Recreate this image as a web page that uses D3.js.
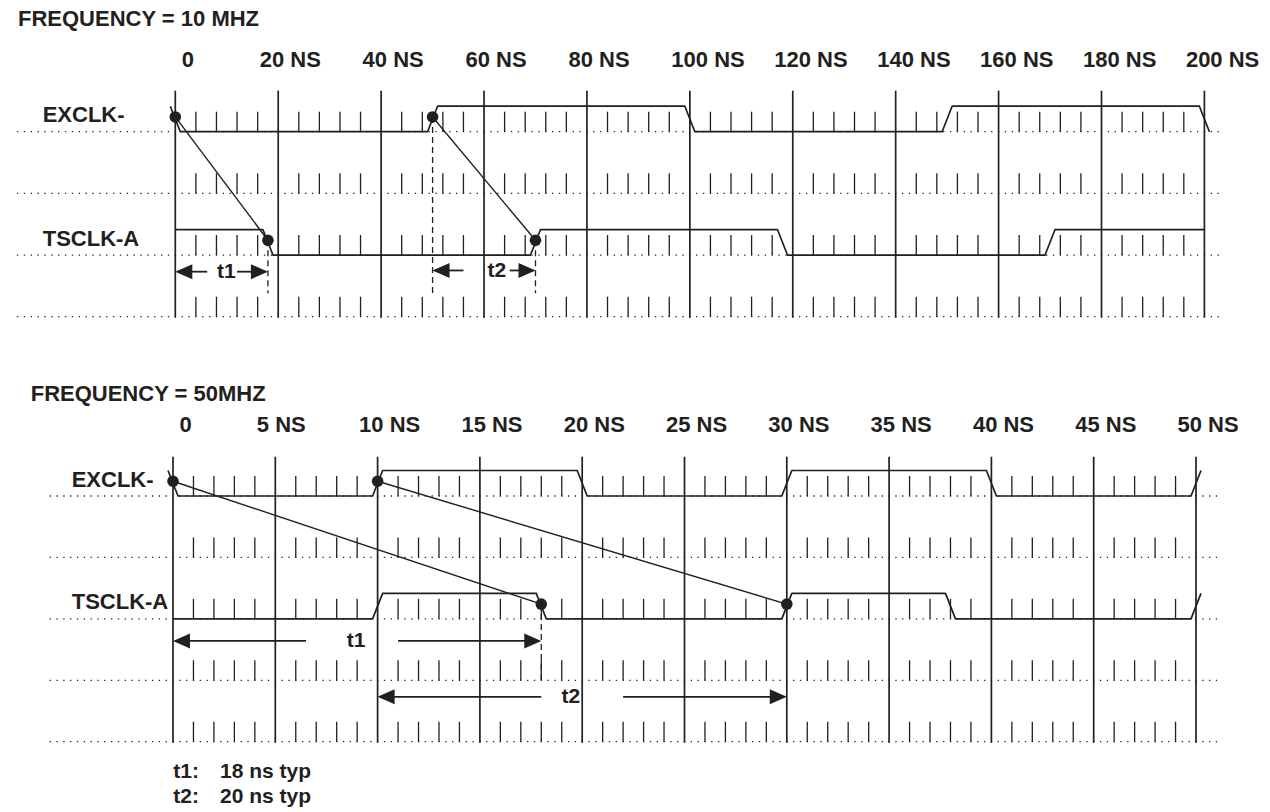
<!DOCTYPE html>
<html lang="en">
<head>
<meta charset="utf-8">
<title>EXCLK- / TSCLK-A timing</title>
<script src="https://cdn.jsdelivr.net/npm/d3@7"></script>
<style>
    body { margin: 0; background: #fff; }
    svg { display: block; }
    text { font-family: "Liberation Sans", Arial, Helvetica, sans-serif; font-weight: bold; fill: #231f20; }
</style>
</head>
<body>
<div id="container"></div>
<script>
// ---------- data: 10 MHz ----------
var ticks10 = [0, 20, 40, 60, 80, 100, 120, 140, 160, 180, 200];
var labels10 = ["0", "20 NS", "40 NS", "60 NS", "80 NS", "100 NS", "120 NS", "140 NS", "160 NS", "180 NS", "200 NS"];
var rows10 = ["EXCLK-", "", "TSCLK-A", ""];
var exclk10 = [0, 50, 100, 150, 200];      // edge times (ns), level toggles, starts high
var tsclk10 = [18, 70, 118, 170];          // starts high
var delays10 = [[0, 18], [50, 70]];        // EXCLK- edge -> TSCLK-A edge
var guides10 = [[18, 2, 2.62], [50, 0, 2.62], [70, 2, 2.62]];   // time, from row, to row
var spans10 = [
    { name: "t1", from: 0, to: 18, at: 9.9, gap: [6.2, 12.0], row: 2.27 },
    { name: "t2", from: 50, to: 70, at: 62.5, gap: [56.0, 65.0], row: 2.25 }
];

// ---------- data: 50 MHz ----------
var ticks50 = [0, 5, 10, 15, 20, 25, 30, 35, 40, 45, 50];
var labels50 = ["0", "5 NS", "10 NS", "15 NS", "20 NS", "25 NS", "30 NS", "35 NS", "40 NS", "45 NS", "50 NS"];
var rows50 = ["EXCLK-", "", "TSCLK-A", "", ""];
var exclk50 = [0, 10, 20, 30, 40, 50];     // starts high
var tsclk50 = [10, 18, 30, 38, 50];        // starts low
var delays50 = [[0, 18], [10, 30]];
var guides50 = [[18, 2, 3]];
var spans50 = [
    { name: "t1", from: 0, to: 18, at: 8.95, gap: [6.5, 11.0], row: 2.36 },
    { name: "t2", from: 10, to: 30, at: 19.45, gap: [18.0, 22.0], row: 3.27 }
];

var notes = [["t1:", "18 ns typ"], ["t2:", "20 ns typ"]];

// ---------- drawing ----------
var ink = "#231f20";
var width = 1270, height = 812;

var svg = d3.select("#container").append("svg")
    .attr("width", width)
    .attr("height", height);

function drawDiagram(cfg) {
    var g = svg.append("g");
    var x = d3.scaleLinear().domain([cfg.ticks[0], cfg.ticks[cfg.ticks.length - 1]]).range(cfg.xRange);
    var y = d3.scaleLinear().domain([0, cfg.rows.length - 1]).range(cfg.yRange);
    var hi = 25.5, edge = 5;
    var majorStep = cfg.ticks[1] - cfg.ticks[0];
    var t0 = x.domain()[0], t1 = x.domain()[1];

    function lvl(row, v) { return y(row) - v * hi; }

    // title
    g.append("text")
        .attr("x", cfg.titleX).attr("y", cfg.titleY)
        .style("font-size", "22px")
        .text(cfg.title);

    // time labels
    var axis = d3.axisTop(x)
        .tickValues(cfg.ticks)
        .tickFormat(function(d, i) { return cfg.labels[i]; })
        .tickSize(0)
        .tickPadding(0);
    var ax = g.append("g")
        .attr("transform", "translate(0," + cfg.labelY + ")")
        .call(axis);
    ax.select(".domain").remove();
    ax.selectAll("text")
        .attr("font-family", null)
        .style("font-size", "22px")
        .attr("fill", ink)
        .attr("text-anchor", "start")
        .attr("dx", function(d, i) { return cfg.labels[i] === "0" ? 6 : -19; });

    // dotted baselines
    var period = (x(t0 + cfg.minor) - x(t0)) / 3;
    var n = Math.floor((x(t0) - cfg.dotsX[0]) / period);
    var startX = x(t0) - n * period;
    g.selectAll(".dots").data(cfg.rows).enter().append("line")
        .attr("x1", startX - 0.6).attr("x2", cfg.dotsX[1])
        .attr("y1", function(d, i) { return y(i); })
        .attr("y2", function(d, i) { return y(i); })
        .attr("stroke", ink)
        .attr("stroke-width", 1.3)
        .attr("stroke-dasharray", "1.3," + (period - 1.3));

    // minor ticks
    var minorTimes = d3.range(t0, t1 + 0.001, cfg.minor).filter(function(t) {
        return Math.abs(t / majorStep - Math.round(t / majorStep)) > 1e-6;
    });
    cfg.rows.forEach(function(r, i) {
        g.selectAll(".tick" + i).data(minorTimes).enter().append("line")
            .attr("x1", function(d) { return x(d); })
            .attr("x2", function(d) { return x(d); })
            .attr("y1", y(i))
            .attr("y2", y(i) - 20)
            .attr("stroke", ink)
            .attr("stroke-width", 1.3);
    });

    // major grid lines
    g.selectAll(".grid").data(cfg.ticks).enter().append("line")
        .attr("x1", function(d) { return x(d); })
        .attr("x2", function(d) { return x(d); })
        .attr("y1", cfg.gridTop)
        .attr("y2", y(cfg.rows.length - 1) + 1)
        .attr("stroke", ink)
        .attr("stroke-width", 1.7);

    // waveforms
    function wavePoints(edges, init, row) {
        var pts = [];
        var v = init;
        if (edges[0] === t0) {
            pts.push([x(t0) - edge, lvl(row, v)]);
        } else {
            pts.push([x(t0), lvl(row, v)]);
        }
        edges.forEach(function(e) {
            if (e !== t0) pts.push([x(e) - edge, lvl(row, v)]);
            v = 1 - v;
            pts.push([x(e) + edge, lvl(row, v)]);
        });
        if (edges[edges.length - 1] !== t1) pts.push([x(t1), lvl(row, v)]);
        return pts;
    }
    var line = d3.line();
    cfg.waves.forEach(function(w) {
        g.append("path")
            .attr("d", line(wavePoints(w.edges, w.init, w.row)))
            .attr("fill", "none")
            .attr("stroke", ink)
            .attr("stroke-width", 1.7)
            .attr("stroke-linejoin", "round");
    });

    function mid(row) { return y(row) - hi / 2 - 2; }

    // dashed guides
    g.selectAll(".guide").data(cfg.guides).enter().append("line")
        .attr("x1", function(d) { return x(d[0]); })
        .attr("x2", function(d) { return x(d[0]); })
        .attr("y1", function(d) { return mid(d[1]); })
        .attr("y2", function(d) { return y(d[2]); })
        .attr("stroke", ink)
        .attr("stroke-width", 1.3)
        .attr("stroke-dasharray", "6,4");

    // cause -> effect lines with dots
    g.selectAll(".delay").data(cfg.delays).enter().append("line")
        .attr("x1", function(d) { return x(d[0]); })
        .attr("y1", mid(0))
        .attr("x2", function(d) { return x(d[1]); })
        .attr("y2", mid(2))
        .attr("stroke", ink)
        .attr("stroke-width", 1.4);
    var dotPts = [];
    cfg.delays.forEach(function(d) { dotPts.push([d[0], 0], [d[1], 2]); });
    g.selectAll(".dot").data(dotPts).enter().append("circle")
        .attr("cx", function(d) { return x(d[0]); })
        .attr("cy", function(d) { return mid(d[1]); })
        .attr("r", 5.8)
        .attr("fill", ink);

    // span arrows
    var aL = 17, aH = 7.5;
    cfg.spans.forEach(function(s) {
        var ay = y(s.row);
        var xa = x(s.from), xb = x(s.to);
        g.append("line")
            .attr("x1", xa + 2).attr("x2", x(s.gap[0]))
            .attr("y1", ay).attr("y2", ay)
            .attr("stroke", ink).attr("stroke-width", 1.8);
        g.append("line")
            .attr("x1", x(s.gap[1])).attr("x2", xb - 2)
            .attr("y1", ay).attr("y2", ay)
            .attr("stroke", ink).attr("stroke-width", 1.8);
        g.append("path")
            .attr("d", "M" + xa + "," + ay + "L" + (xa + aL) + "," + (ay - aH) + "L" + (xa + aL) + "," + (ay + aH) + "Z")
            .attr("fill", ink);
        g.append("path")
            .attr("d", "M" + xb + "," + ay + "L" + (xb - aL) + "," + (ay - aH) + "L" + (xb - aL) + "," + (ay + aH) + "Z")
            .attr("fill", ink);
        g.append("text")
            .attr("x", x(s.at)).attr("y", ay + 6.5)
            .attr("text-anchor", "middle")
            .style("font-size", "21px")
            .text(s.name);
    });

    // row names
    g.selectAll(".rowname").data(cfg.rows).enter().append("text")
        .attr("x", cfg.nameX)
        .attr("y", function(d, i) { return y(i) - 9.5; })
        .style("font-size", "22px")
        .text(function(d) { return d; });
}

drawDiagram({
    title: "FREQUENCY = 10 MHZ", titleX: 18, titleY: 26,
    ticks: ticks10, labels: labels10, rows: rows10, minor: 4,
    xRange: [175.3, 1204.4], yRange: [131.7, 316.7],
    labelY: 66.7, gridTop: 90.7, nameX: 42.7, dotsX: [12, 1223],
    waves: [{ edges: exclk10, init: 1, row: 0 }, { edges: tsclk10, init: 1, row: 2 }],
    delays: delays10, guides: guides10, spans: spans10
});

drawDiagram({
    title: "FREQUENCY = 50MHZ", titleX: 30.7, titleY: 401,
    ticks: ticks50, labels: labels50, rows: rows50, minor: 1,
    xRange: [173, 1196], yRange: [496, 741.7],
    labelY: 431.7, gridTop: 456.7, nameX: 71.7, dotsX: [50, 1217],
    waves: [{ edges: exclk50, init: 1, row: 0 }, { edges: tsclk50, init: 0, row: 2 }],
    delays: delays50, guides: guides50, spans: spans50
});

// footnotes
var foot = svg.append("g");
notes.forEach(function(nt, i) {
    foot.append("text").attr("x", 173.3).attr("y", 778.3 + i * 25)
        .style("font-size", "21px").text(nt[0]);
    foot.append("text").attr("x", 220).attr("y", 778.3 + i * 25)
        .style("font-size", "21px").text(nt[1]);
});
</script>
</body>
</html>
